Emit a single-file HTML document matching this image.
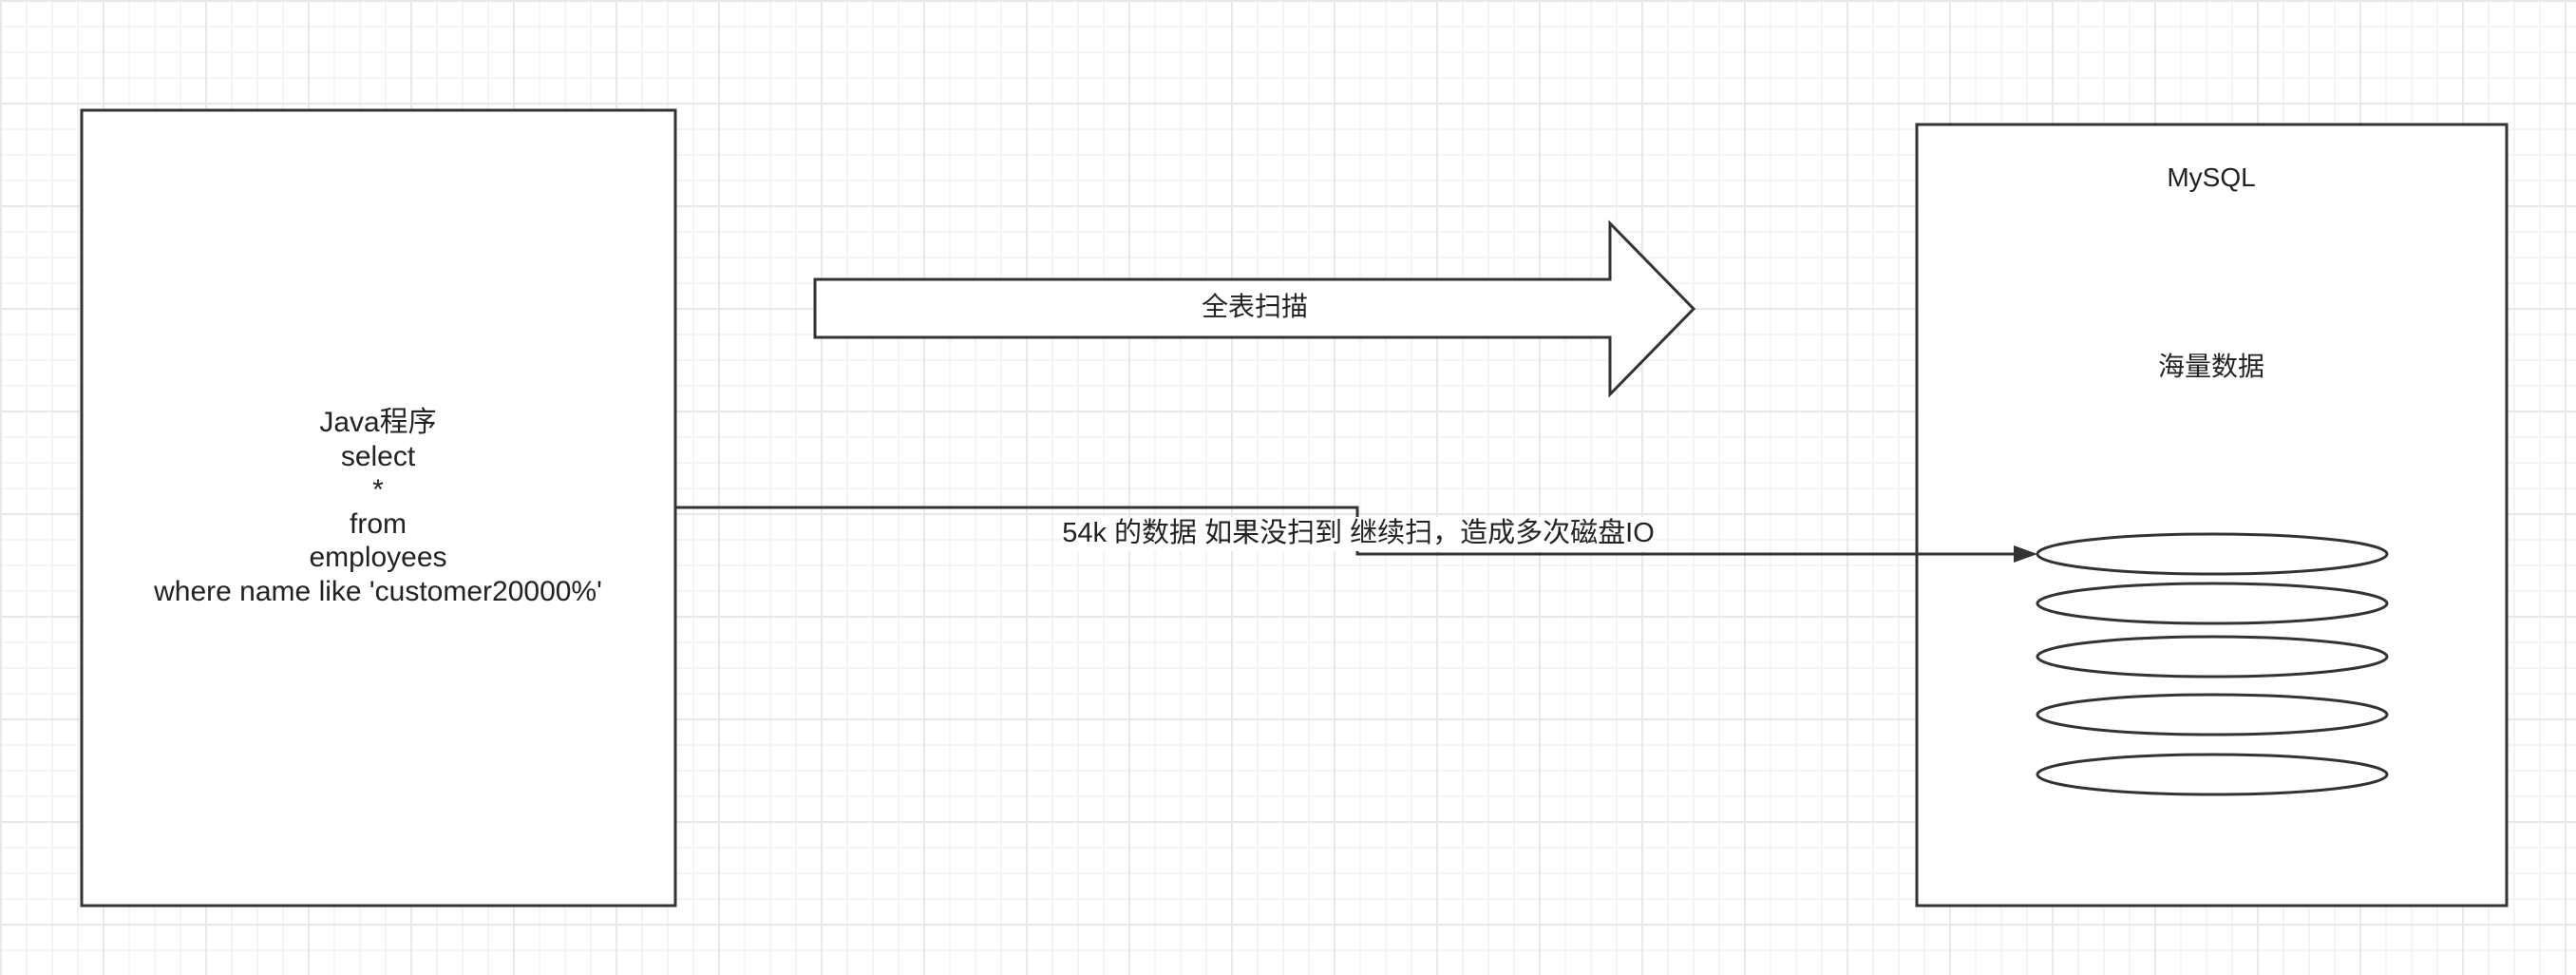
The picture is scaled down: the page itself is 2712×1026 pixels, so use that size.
<!DOCTYPE html>
<html><head><meta charset="utf-8"><style>
html,body{margin:0;padding:0;background:#fff;}
body{width:2712px;height:1026px;overflow:hidden;position:relative;
background-color:#fff;
background-image:
linear-gradient(to right,#e8e8e8 2px,transparent 2px),
linear-gradient(to bottom,#e8e8e8 2px,transparent 2px),
linear-gradient(to right,#f4f4f4 2px,transparent 2px),
linear-gradient(to bottom,#f4f4f4 2px,transparent 2px);
background-size:108px 108px,108px 108px,27px 27px,27px 27px;
background-position:0 0,0 0,0 0,0 0;
font-family:"Liberation Sans","Noto Sans CJK SC",sans-serif;color:#222;}
svg{position:absolute;left:0;top:0;}
.t{position:absolute;font-size:27px;text-align:center;white-space:nowrap;line-height:35.6px;}
</style></head><body>
<svg width="2712" height="1026">
<rect x="86" y="116" width="625" height="837" fill="#fff" stroke="#333" stroke-width="3"/>
<rect x="2018" y="131" width="621" height="822" fill="#fff" stroke="#333" stroke-width="3"/>
<polygon points="858,294 1695,294 1695,235 1783,325 1695,415 1695,355 858,355" fill="#fff" stroke="#333" stroke-width="3"/>
<polyline points="711,534 1429,534 1429,583 2130,583" fill="none" stroke="#333" stroke-width="3"/>
<polygon points="2145,583 2120,574 2120,592" fill="#333"/>
<g fill="#fff" stroke="#333" stroke-width="3">
<ellipse cx="2329" cy="583" rx="184" ry="21"/>
<ellipse cx="2329" cy="635" rx="184" ry="21"/>
<ellipse cx="2329" cy="691" rx="184" ry="21"/>
<ellipse cx="2329" cy="752" rx="184" ry="21"/>
<ellipse cx="2329" cy="815" rx="184" ry="21"/>
</g>
</svg>
<div class="t" style="left:148px;width:500px;top:427px;font-size:30px;">Java程序<br>select<br>*<br>from<br>employees<br>where name like 'customer20000%'</div>
<div class="t" style="left:1121px;width:400px;top:305px;font-size:28px;">全表扫描</div>
<div class="t" style="left:2128px;width:400px;top:169px;font-size:28px;">MySQL</div>
<div class="t" style="left:2128px;width:400px;top:368px;font-size:28px;">海量数据</div>
<div class="t" style="left:1430px;transform:translateX(-50%);top:544px;background:#fff;padding:0 2px;font-size:29px;">54k 的数据 如果没扫到 继续扫，造成多次磁盘IO</div>
</body></html>
